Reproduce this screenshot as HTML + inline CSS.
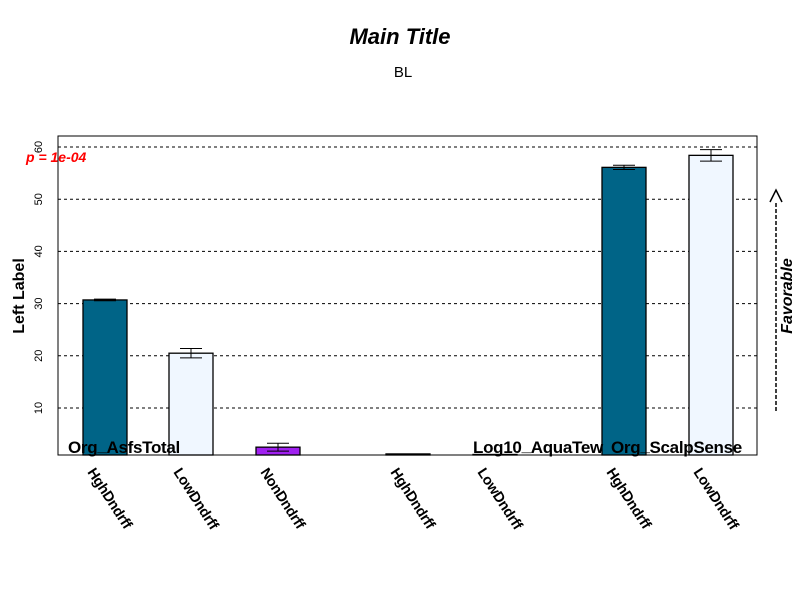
<!DOCTYPE html>
<html><head><meta charset="utf-8"><style>body{margin:0;background:#fff}svg{display:block;font-family:"Liberation Sans",sans-serif}</style></head>
<body>
<svg id="c" width="800" height="600">
<text x="400" y="44" text-anchor="middle" font-size="22" font-weight="bold" font-style="italic">Main Title</text>
<text x="403" y="77" text-anchor="middle" font-size="15">BL</text>
<g id="grid"></g><g id="bars"></g>
<rect x="58" y="136" width="699" height="319" fill="none" stroke="#000"/>
<g id="yax"></g><g id="xl"></g>
<text transform="translate(24,296) rotate(-90)" text-anchor="middle" font-size="16" font-weight="bold">Left Label</text>
<text x="26" y="162" font-size="14" font-weight="bold" font-style="italic" fill="#f00">p = 1e-04</text>
<line x1="776" y1="203" x2="776" y2="411" stroke="#000" stroke-dasharray="4,2" stroke-width="1.5"/>
<polyline points="770,202 776,190 782,202" fill="none" stroke="#000" stroke-width="1.5"/>
<text transform="translate(792,296) rotate(-90)" text-anchor="middle" font-size="16" font-weight="bold" font-style="italic">Favorable</text>
<g font-size="17" font-weight="bold" letter-spacing="-0.3">
<text x="68" y="453">Org<tspan dy="-2">_</tspan><tspan dy="2">AsfsTotal</tspan></text>
<text x="473" y="453">Log10<tspan dy="-2">_</tspan><tspan dy="2">AquaTew</tspan></text>
<text x="611" y="453">Org<tspan dy="-2">_</tspan><tspan dy="2">ScalpSense</tspan></text>
</g>
</svg>
<script>
const categories=["HghDndrff","LowDndrff","NonDndrff","HghDndrff","LowDndrff","HghDndrff","LowDndrff"];
const values=[30.7,20.5,2.5,1.2,1.1,56.1,58.4];
const errors=[0.15,0.9,0.75,0,0,0.4,1.1];
const colors=["#006487","#f0f7ff","#a020f0","#006487","#f0f7ff","#006487","#f0f7ff"];
const centers=[105,191,278,408,495,624,711];
const yTicks=[10,20,30,40,50,60];
const NS="http://www.w3.org/2000/svg";
const y=v=>460.2-(v-0)*5.22;
function mk(t,a,p){const e=document.createElementNS(NS,t);for(const k in a)e.setAttribute(k,a[k]);p.appendChild(e);return e;}
const g=document.getElementById('grid'),b=document.getElementById('bars'),ya=document.getElementById('yax'),xl=document.getElementById('xl');
yTicks.forEach(t=>{
 const l=mk('line',{x1:58,x2:757,y1:y(t),y2:y(t),stroke:'#000','stroke-dasharray':'3,3'},g);
 
 
 const tk=mk('text',{transform:`translate(42,${y(t)}) rotate(-90)`,'text-anchor':'middle','font-size':11},ya);
 tk.textContent=t;
 
 
});
values.forEach((v,i)=>{
 const cx=centers[i],top=y(v),bot=455;
 const r=mk('rect',{x:cx-22,y:Math.min(top,bot-0.5),width:44,height:Math.max(bot-top,0.5),fill:colors[i],stroke:'#000','stroke-width':1.3},b);
 
 
 if(errors[i]>0){
  const e=errors[i],eg=mk('g',{stroke:'#000'},b);
  
  
  mk('line',{x1:cx,x2:cx,y1:y(v+e),y2:y(v-e)},eg);
  mk('line',{x1:cx-11,x2:cx+11,y1:y(v+e),y2:y(v+e)},eg);
  mk('line',{x1:cx-11,x2:cx+11,y1:y(v-e),y2:y(v-e)},eg);
 }
 const t=mk('text',{transform:`translate(${cx-18},${472}) rotate(57)`,'font-size':14.5,'font-weight':'bold','letter-spacing':'-0.3'},xl);
 t.textContent=categories[i];
 
 
});
</script>
</body></html>
